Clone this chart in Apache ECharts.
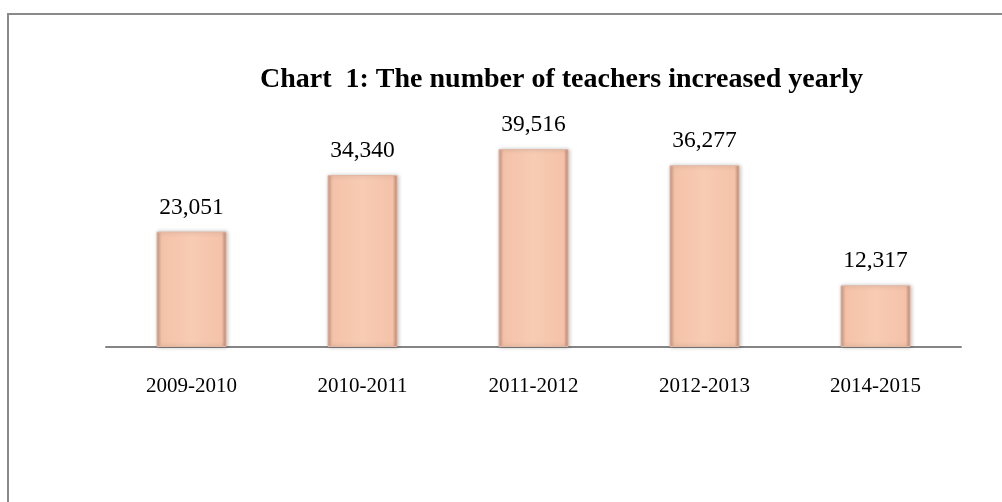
<!DOCTYPE html>
<html>
<head>
<meta charset="utf-8">
<script src="https://cdn.jsdelivr.net/npm/echarts@6/dist/echarts.min.js"></script>
<style>
    html, body { margin: 0; padding: 0; background: #fff; }
    #chart { width: 1002px; height: 502px; }
</style>
</head>
<body>
<div id="chart"></div>
<script>
    // years and teacher counts
    var years = ['2009-2010', '2010-2011', '2011-2012', '2012-2013', '2014-2015']
    var teachers = [23051, 34340, 39516, 36277, 12317]

    var myChart = echarts.init(document.getElementById('chart'))

    var barColor = new echarts.graphic.LinearGradient(0, 0, 1, 0, [
        { offset: 0, color: '#c9957f' },
        { offset: 0.07, color: '#f4c2a9' },
        { offset: 0.5, color: '#f8cbb3' },
        { offset: 0.93, color: '#f4c2a9' },
        { offset: 1, color: '#b9856f' }
    ])

    var option = {
        animation: false,
        title: {
            text: 'Chart  1: The number of teachers increased yearly',
            left: 255,
            top: 61,
            textStyle: {
                fontFamily: 'Liberation Serif',
                fontWeight: 'bold',
                fontSize: 28,
                color: '#000'
            }
        },
        graphic: [{
            type: 'rect',
            shape: { x: 8, y: 14, width: 1100, height: 600 },
            style: { fill: 'none', stroke: '#8a8a8a', lineWidth: 2 },
            silent: true
        }],
        grid: {
            left: 106,
            right: 41,
            top: 96.6,
            bottom: 155
        },
        xAxis: {
            type: 'category',
            data: years,
            axisTick: { show: false },
            axisLine: {
                show: true,
                lineStyle: { color: '#858585', width: 2 }
            },
            axisLabel: {
                margin: 29,
                fontFamily: 'Liberation Serif',
                fontSize: 21,
                color: '#000'
            }
        },
        yAxis: {
            type: 'value',
            min: 0,
            max: 50000,
            show: false,
            splitLine: { show: false }
        },
        series: [{
            type: 'bar',
            data: teachers,
            barWidth: 70,
            itemStyle: {
                color: barColor,
                borderColor: '#e3b8a3',
                borderWidth: 1,
                shadowColor: 'rgba(0,0,0,0.25)',
                shadowBlur: 4,
                shadowOffsetX: 1,
                shadowOffsetY: 0
            },
            label: {
                show: true,
                position: 'top',
                distance: 12,
                fontFamily: 'Liberation Serif',
                fontSize: 23.5,
                color: '#000',
                formatter: function(p) {
                    return p.value.toLocaleString('en-US')
                }
            }
        }]
    }
    myChart.setOption(option)
</script>
</body>
</html>
